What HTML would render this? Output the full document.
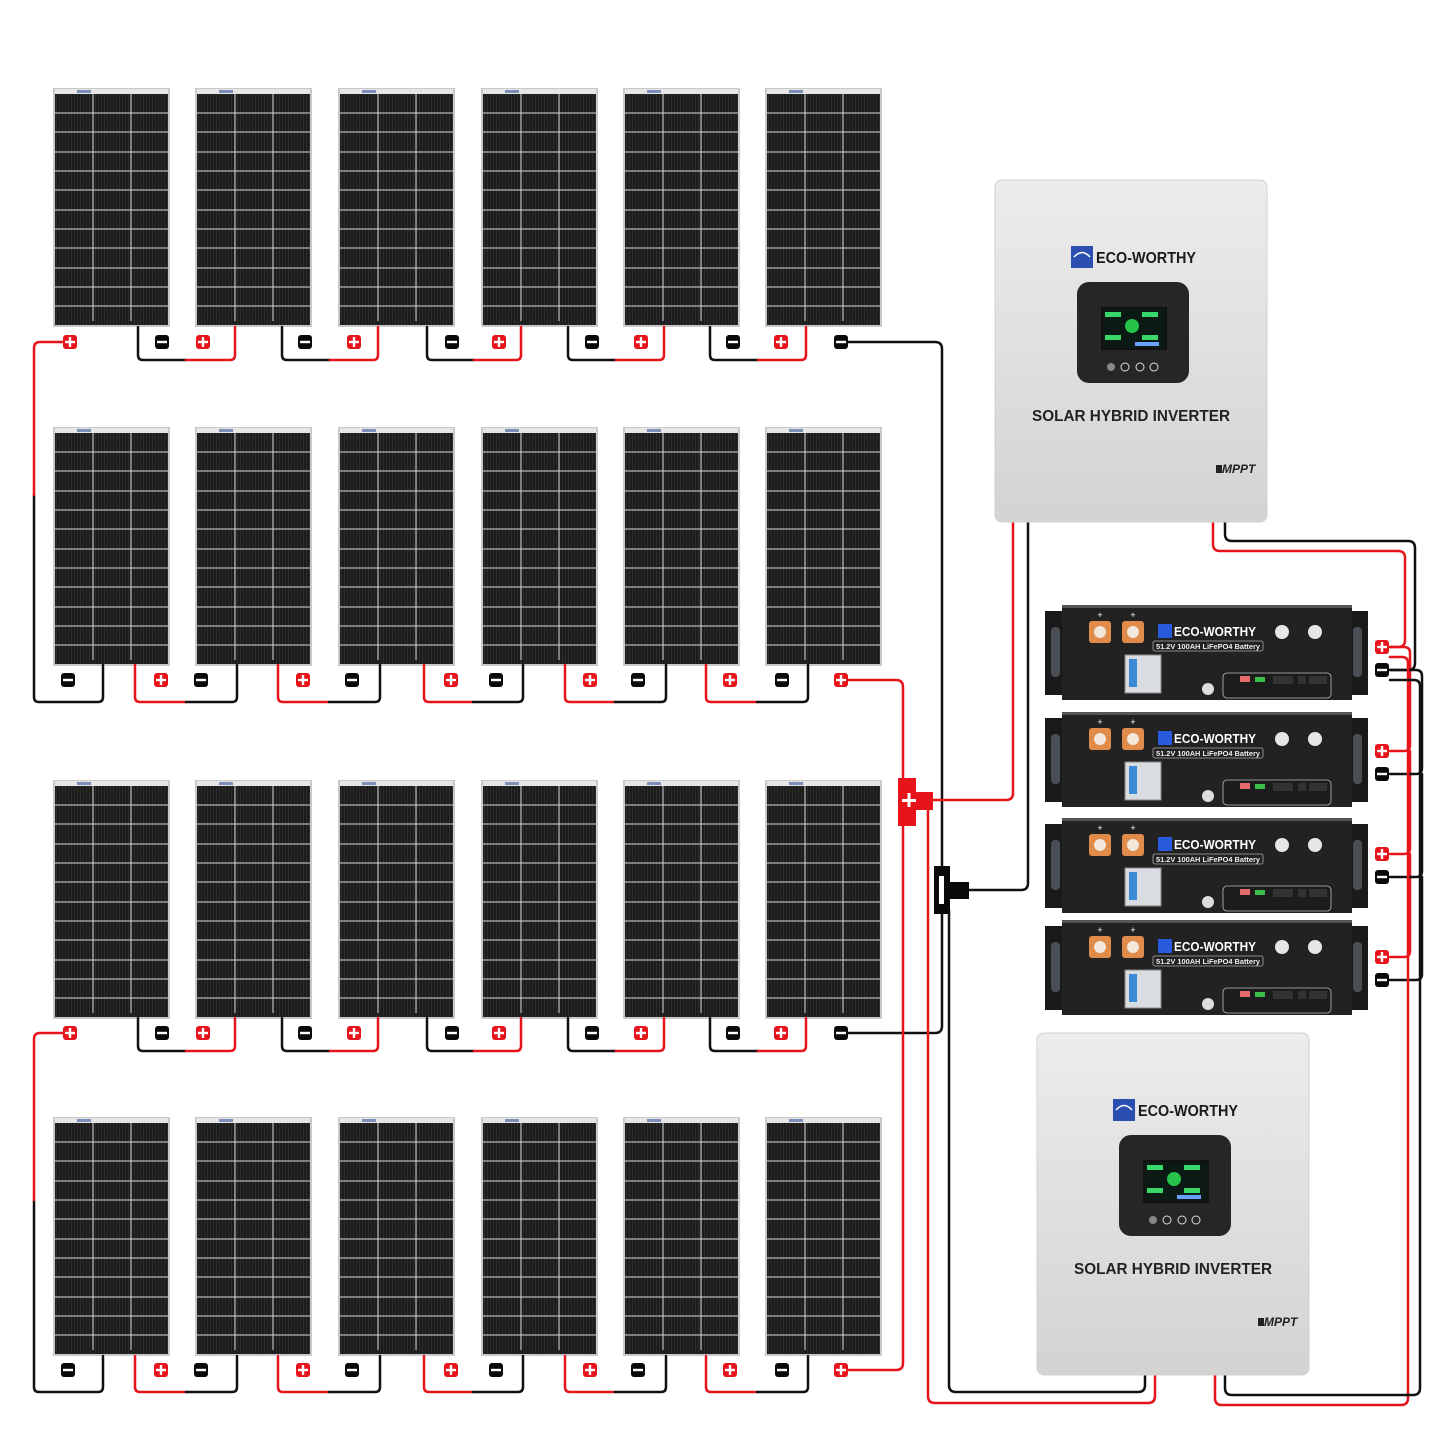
<!DOCTYPE html>
<html><head><meta charset="utf-8"><style>
html,body{margin:0;padding:0;background:#fff;}
svg{display:block;}
text{font-family:"Liberation Sans",sans-serif;}
</style></head><body>
<svg width="1445" height="1445" viewBox="0 0 1445 1445" xmlns="http://www.w3.org/2000/svg">
<defs>
<pattern id="stripe" width="3" height="10" patternUnits="userSpaceOnUse">
<rect width="3" height="10" fill="#1c1c1c"/><rect width="1" height="10" fill="#2c2c2c"/>
</pattern>
<g id="panel">
<rect x="0" y="0" width="117" height="239" fill="#c9c9c9"/>
<rect x="2" y="1" width="113" height="5" fill="#e6e6e6"/>
<rect x="24" y="2" width="14" height="3" fill="#7d8fb8"/>
<rect x="2" y="6" width="113" height="231" fill="url(#stripe)"/>
<g stroke="#d8d8d8" stroke-width="1">
<line x1="40" y1="6" x2="40" y2="233"/><line x1="78" y1="6" x2="78" y2="233"/>
<line x1="2" y1="25" x2="115" y2="25"/><line x1="2" y1="44" x2="115" y2="44"/>
<line x1="2" y1="64" x2="115" y2="64"/><line x1="2" y1="83" x2="115" y2="83"/>
<line x1="2" y1="102" x2="115" y2="102"/><line x1="2" y1="122" x2="115" y2="122"/>
<line x1="2" y1="141" x2="115" y2="141"/><line x1="2" y1="160" x2="115" y2="160"/>
<line x1="2" y1="180" x2="115" y2="180"/><line x1="2" y1="199" x2="115" y2="199"/>
<line x1="2" y1="218" x2="115" y2="218"/>
</g>
</g>
<g id="tp"><rect x="-7" y="-7" width="14" height="14" rx="3" fill="#e8141c"/><rect x="-5" y="-1.2" width="10" height="2.4" fill="#fff"/><rect x="-1.2" y="-5" width="2.4" height="10" fill="#fff"/></g>
<g id="tn"><rect x="-7" y="-7" width="14" height="14" rx="3" fill="#0a0a0a"/><rect x="-5" y="-1.2" width="10" height="2.4" fill="#fff"/></g>
<linearGradient id="inv" x1="0" y1="0" x2="0" y2="1"><stop offset="0" stop-color="#ececec"/><stop offset="1" stop-color="#d3d3d1"/></linearGradient>
</defs>

<!-- panels -->
<g>
<use href="#panel" x="53" y="88"/><use href="#panel" x="195" y="88"/><use href="#panel" x="338" y="88"/><use href="#panel" x="481" y="88"/><use href="#panel" x="623" y="88"/><use href="#panel" x="765" y="88"/>
<use href="#panel" x="53" y="427"/><use href="#panel" x="195" y="427"/><use href="#panel" x="338" y="427"/><use href="#panel" x="481" y="427"/><use href="#panel" x="623" y="427"/><use href="#panel" x="765" y="427"/>
<use href="#panel" x="53" y="780"/><use href="#panel" x="195" y="780"/><use href="#panel" x="338" y="780"/><use href="#panel" x="481" y="780"/><use href="#panel" x="623" y="780"/><use href="#panel" x="765" y="780"/>
<use href="#panel" x="53" y="1117"/><use href="#panel" x="195" y="1117"/><use href="#panel" x="338" y="1117"/><use href="#panel" x="481" y="1117"/><use href="#panel" x="623" y="1117"/><use href="#panel" x="765" y="1117"/>
</g>

<g fill="none" stroke-width="2.5" stroke-linejoin="round" stroke-linecap="round">
<!-- Row A wires (rows 1 & 3) -->
<g id="rowA">
<path d="M138 327 V355 Q138 360 143 360 H186" stroke="#111"/><path d="M186 360 H230 Q235 360 235 355 V327" stroke="#e8141c"/>
<path d="M282 327 V355 Q282 360 287 360 H330" stroke="#111"/><path d="M330 360 H373 Q378 360 378 355 V327" stroke="#e8141c"/>
<path d="M427 327 V355 Q427 360 432 360 H474" stroke="#111"/><path d="M474 360 H516 Q521 360 521 355 V327" stroke="#e8141c"/>
<path d="M568 327 V355 Q568 360 573 360 H616" stroke="#111"/><path d="M616 360 H659 Q664 360 664 355 V327" stroke="#e8141c"/>
<path d="M710 327 V355 Q710 360 715 360 H758" stroke="#111"/><path d="M758 360 H801 Q806 360 806 355 V327" stroke="#e8141c"/>
</g>
<use href="#rowA" y="691"/>
<!-- Row B wires (rows 2 & 4) -->
<g id="rowB">
<path d="M103 665 V697 Q103 702 98 702 H39 Q34 702 34 697 V495" stroke="#111"/>
<path d="M135 665 V697 Q135 702 140 702 H186" stroke="#e8141c"/><path d="M186 702 H232 Q237 702 237 697 V665" stroke="#111"/>
<path d="M278 665 V697 Q278 702 283 702 H329" stroke="#e8141c"/><path d="M329 702 H375 Q380 702 380 697 V665" stroke="#111"/>
<path d="M424 665 V697 Q424 702 429 702 H473" stroke="#e8141c"/><path d="M473 702 H518 Q523 702 523 697 V665" stroke="#111"/>
<path d="M565 665 V697 Q565 702 570 702 H615" stroke="#e8141c"/><path d="M615 702 H661 Q666 702 666 697 V665" stroke="#111"/>
<path d="M706 665 V697 Q706 702 711 702 H757" stroke="#e8141c"/><path d="M757 702 H803 Q808 702 808 697 V665" stroke="#111"/>
</g>
<path d="M103 1356 V1387 Q103 1392 98 1392 H39 Q34 1392 34 1387 V1200" stroke="#111"/>
<path d="M135 1356 V1387 Q135 1392 140 1392 H186" stroke="#e8141c"/><path d="M186 1392 H232 Q237 1392 237 1387 V1356" stroke="#111"/>
<path d="M278 1356 V1387 Q278 1392 283 1392 H329" stroke="#e8141c"/><path d="M329 1392 H375 Q380 1392 380 1387 V1356" stroke="#111"/>
<path d="M424 1356 V1387 Q424 1392 429 1392 H473" stroke="#e8141c"/><path d="M473 1392 H518 Q523 1392 523 1387 V1356" stroke="#111"/>
<path d="M565 1356 V1387 Q565 1392 570 1392 H615" stroke="#e8141c"/><path d="M615 1392 H661 Q666 1392 666 1387 V1356" stroke="#111"/>
<path d="M706 1356 V1387 Q706 1392 711 1392 H757" stroke="#e8141c"/><path d="M757 1392 H803 Q808 1392 808 1387 V1356" stroke="#111"/>
<!-- left red ends -->
<path d="M64 342 H40 Q34 342 34 348 V495" stroke="#e8141c"/>
<path d="M64 1033 H40 Q34 1033 34 1039 V1200" stroke="#e8141c"/>
<!-- trunks -->
<path d="M848 342 H935 Q942 342 942 349 V1026 Q942 1033 935 1033 H848" stroke="#111"/>
<path d="M848 680 H896 Q903 680 903 687 V1363 Q903 1370 896 1370 H848" stroke="#e8141c"/>
<!-- to inverter 1 -->
<path d="M932 800 H1006 Q1013 800 1013 793 V522" stroke="#e8141c"/>
<path d="M968 890 H1021 Q1028 890 1028 883 V522" stroke="#111"/>
<!-- to inverter 2 -->
<path d="M928 810 V1396 Q928 1403 935 1403 H1148 Q1155 1403 1155 1396 V1375" stroke="#e8141c"/>
<path d="M949 910 V1385 Q949 1392 956 1392 H1138 Q1145 1392 1145 1385 V1375" stroke="#111"/>
<!-- inverter 1 to batteries -->
<path d="M1213 522 V544 Q1213 551 1220 551 H1398 Q1405 551 1405 558 V640 Q1405 647 1398 647 H1390" stroke="#e8141c"/>
<path d="M1225 522 V534 Q1225 541 1232 541 H1408 Q1415 541 1415 548 V663 Q1415 670 1408 670 H1390" stroke="#111"/>
<!-- battery bus -->
<path d="M1390 647 H1404 Q1410 647 1410 653 V745 Q1410 751 1404 751 H1390 M1410 751 V848 Q1410 854 1404 854 H1390 M1410 854 V951 Q1410 957 1404 957 H1390" stroke="#e8141c"/>
<path d="M1390 670 H1416 Q1422 670 1422 676 V768 Q1422 774 1416 774 H1390 M1422 774 V871 Q1422 877 1416 877 H1390 M1422 877 V974 Q1422 980 1416 980 H1390" stroke="#111"/>
<!-- inverter 2 to batteries -->
<path d="M1390 657 H1402 Q1408 657 1408 663 V1398 Q1408 1405 1401 1405 H1222 Q1215 1405 1215 1398 V1375" stroke="#e8141c"/>
<path d="M1390 680 H1414 Q1420 680 1420 686 V1388 Q1420 1395 1413 1395 H1232 Q1225 1395 1225 1388 V1375" stroke="#111"/>
</g>

<!-- terminals -->
<g>
<use href="#tp" x="70" y="342"/>
<use href="#tn" x="162" y="342"/><use href="#tp" x="203" y="342"/><use href="#tn" x="305" y="342"/><use href="#tp" x="354" y="342"/><use href="#tn" x="452" y="342"/><use href="#tp" x="499" y="342"/><use href="#tn" x="592" y="342"/><use href="#tp" x="641" y="342"/><use href="#tn" x="733" y="342"/><use href="#tp" x="781" y="342"/><use href="#tn" x="841" y="342"/>
<use href="#tp" x="70" y="1033"/>
<use href="#tn" x="162" y="1033"/><use href="#tp" x="203" y="1033"/><use href="#tn" x="305" y="1033"/><use href="#tp" x="354" y="1033"/><use href="#tn" x="452" y="1033"/><use href="#tp" x="499" y="1033"/><use href="#tn" x="592" y="1033"/><use href="#tp" x="641" y="1033"/><use href="#tn" x="733" y="1033"/><use href="#tp" x="781" y="1033"/><use href="#tn" x="841" y="1033"/>
<use href="#tn" x="68" y="680"/>
<use href="#tp" x="161" y="680"/><use href="#tn" x="201" y="680"/><use href="#tp" x="303" y="680"/><use href="#tn" x="352" y="680"/><use href="#tp" x="451" y="680"/><use href="#tn" x="496" y="680"/><use href="#tp" x="590" y="680"/><use href="#tn" x="638" y="680"/><use href="#tp" x="730" y="680"/><use href="#tn" x="782" y="680"/><use href="#tp" x="841" y="680"/>
<use href="#tn" x="68" y="1370"/>
<use href="#tp" x="161" y="1370"/><use href="#tn" x="201" y="1370"/><use href="#tp" x="303" y="1370"/><use href="#tn" x="352" y="1370"/><use href="#tp" x="451" y="1370"/><use href="#tn" x="496" y="1370"/><use href="#tp" x="590" y="1370"/><use href="#tn" x="638" y="1370"/><use href="#tp" x="730" y="1370"/><use href="#tn" x="782" y="1370"/><use href="#tp" x="841" y="1370"/>
<use href="#tp" x="1382" y="647"/><use href="#tn" x="1382" y="670"/>
<use href="#tp" x="1382" y="751"/><use href="#tn" x="1382" y="774"/>
<use href="#tp" x="1382" y="854"/><use href="#tn" x="1382" y="877"/>
<use href="#tp" x="1382" y="957"/><use href="#tn" x="1382" y="980"/>
</g>

<!-- combiners -->
<rect x="898" y="778" width="18" height="48" fill="#e8141c"/>
<rect x="914" y="792" width="19" height="18" fill="#e8141c"/>
<rect x="902" y="799" width="14" height="3" fill="#fff"/><rect x="907.5" y="793" width="3" height="14" fill="#fff"/>
<rect x="934" y="866" width="16" height="48" fill="#0a0a0a"/>
<rect x="948" y="882" width="21" height="17" fill="#0a0a0a"/>
<rect x="939" y="876" width="5" height="28" fill="#fff"/>

<!-- inverter 1 -->
<g id="inv1">
<rect x="995" y="180" width="272" height="342" rx="7" fill="url(#inv)" stroke="#d0d0d0"/>
<line x1="996" y1="457" x2="1266" y2="457" stroke="#d6d6d6"/>
<rect x="1071" y="246" width="22" height="22" fill="#2a4fb0"/>
<path d="M1074 257 Q1082 248 1090 257" stroke="#fff" fill="none" stroke-width="1.5"/>
<text x="1096" y="263" font-size="15.5" font-weight="bold" fill="#1a1a1a" textLength="100" lengthAdjust="spacingAndGlyphs">ECO-WORTHY</text>
<rect x="1077" y="282" width="112" height="101" rx="12" fill="#262626"/>
<rect x="1101" y="307" width="66" height="43" fill="#111"/>
<rect x="1103" y="309" width="62" height="39" fill="#0b1a14"/>
<circle cx="1132" cy="326" r="7" fill="#27c24a"/>
<rect x="1105" y="312" width="16" height="5" fill="#3ad86a"/><rect x="1142" y="312" width="16" height="5" fill="#3ad86a"/>
<rect x="1105" y="335" width="16" height="5" fill="#3ad86a"/><rect x="1142" y="335" width="16" height="5" fill="#3ad86a"/>
<rect x="1135" y="342" width="24" height="4" fill="#6aa0ff"/>
<circle cx="1111" cy="367" r="4" fill="#888"/><circle cx="1125" cy="367" r="4" fill="none" stroke="#ddd"/><circle cx="1140" cy="367" r="4" fill="none" stroke="#ddd"/><circle cx="1154" cy="367" r="4" fill="none" stroke="#ddd"/>
<text x="1131" y="421" font-size="15.5" font-weight="bold" fill="#222" text-anchor="middle" textLength="198" lengthAdjust="spacingAndGlyphs">SOLAR HYBRID INVERTER</text>
<rect x="1216" y="465" width="6" height="8" fill="#222"/>
<text x="1222" y="473" font-size="12" font-style="italic" font-weight="bold" fill="#222">MPPT</text>
</g>
<use href="#inv1" x="42" y="853"/>

<!-- batteries -->
<g id="bat" transform="translate(1045,605)">
<rect x="0" y="6" width="20" height="84" fill="#1a1a1a"/>
<rect x="6" y="22" width="9" height="50" rx="4" fill="#4a4e55"/>
<rect x="303" y="6" width="20" height="84" fill="#1a1a1a"/>
<rect x="308" y="22" width="9" height="50" rx="4" fill="#4a4e55"/>
<rect x="17" y="0" width="290" height="95" fill="#222"/>
<rect x="17" y="0" width="290" height="3" fill="#555"/>
<text x="55" y="13" font-size="9" fill="#fff" text-anchor="middle">+</text>
<text x="88" y="13" font-size="9" fill="#fff" text-anchor="middle">+</text>
<rect x="44" y="16" width="22" height="22" rx="3" fill="#e08b4a"/><circle cx="55" cy="27" r="6" fill="#f3e6da"/>
<rect x="77" y="16" width="22" height="22" rx="3" fill="#e08b4a"/><circle cx="88" cy="27" r="6" fill="#f3e6da"/>
<circle cx="237" cy="27" r="7" fill="#e6e6e6"/><circle cx="270" cy="27" r="7" fill="#e6e6e6"/>
<rect x="113" y="19" width="14" height="14" fill="#2a5adc"/>
<text x="129" y="31" font-size="12.5" font-weight="bold" fill="#fff" textLength="82" lengthAdjust="spacingAndGlyphs">ECO-WORTHY</text>
<rect x="108" y="36" width="110" height="10" rx="2" fill="none" stroke="#aaa" stroke-width="0.8"/>
<text x="163" y="44" font-size="7" font-weight="bold" fill="#eee" text-anchor="middle" textLength="104" lengthAdjust="spacingAndGlyphs">51.2V 100AH LiFePO4 Battery</text>
<rect x="80" y="50" width="36" height="38" fill="#d9dde2" stroke="#888"/>
<rect x="84" y="54" width="8" height="28" fill="#3a8ad6"/>
<circle cx="163" cy="84" r="6" fill="#ddd"/>
<rect x="178" y="68" width="108" height="25" rx="4" fill="#1c1c1c" stroke="#bbb" stroke-width="0.8"/>
<rect x="195" y="71" width="10" height="6" fill="#e56a6a"/><rect x="210" y="72" width="10" height="5" fill="#3cbf4a"/>
<rect x="228" y="71" width="20" height="8" fill="#333"/><rect x="253" y="71" width="8" height="8" fill="#333"/><rect x="264" y="71" width="18" height="8" fill="#333"/>
</g>
<use href="#bat" y="107"/>
<use href="#bat" y="213"/>
<use href="#bat" y="315"/>
</svg>
</body></html>
